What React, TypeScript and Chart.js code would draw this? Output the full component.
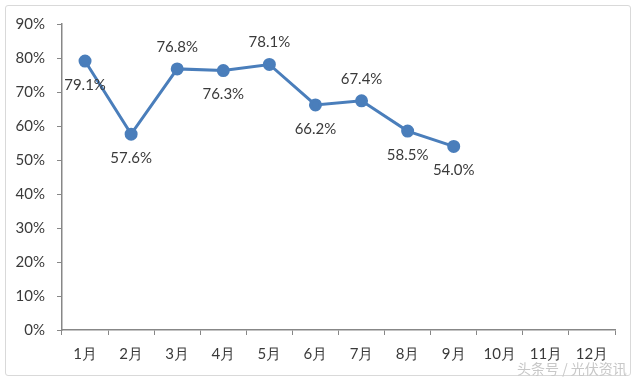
import React, { useEffect, useRef } from "react";
import { Chart, registerables } from "chart.js";

Chart.register(...registerables);

const months = ["1月", "2月", "3月", "4月", "5月", "6月", "7月", "8月", "9月", "10月", "11月", "12月"];
const rates: (number | null)[] = [79.1, 57.6, 76.8, 76.3, 78.1, 66.2, 67.4, 58.5, 54.0, null, null, null];
const labelPlacement = ["below", "below", "above", "below", "above", "below", "above", "below", "below"];
const yTicks = [0, 10, 20, 30, 40, 50, 60, 70, 80, 90];

const FONT = "Lato, 'Open Sans', 'Noto Sans', sans-serif";
const TEXT = "#3a3a3a";
const AXIS = "#878787";
const LINE = "#4a7ebb";

const labelPlugin = {
  id: "pointLabels",
  afterDatasetsDraw(chart: any) {
    const ctx = chart.ctx;
    const meta = chart.getDatasetMeta(0);
    ctx.save();
    ctx.font = `15px ${FONT}`;
    ctx.fillStyle = TEXT;
    ctx.textAlign = "center";
    ctx.textBaseline = "middle";
    meta.data.forEach((pt: any, i: number) => {
      const v = rates[i];
      if (v == null) return;
      const above = labelPlacement[i] === "above";
      const y = above ? pt.y - 22 : pt.y + 24;
      ctx.fillText(v.toFixed(1) + "%", pt.x, y);
    });
    ctx.restore();
  },
};

export default function App() {
  const ref = useRef<HTMLCanvasElement>(null);
  useEffect(() => {
    if (!ref.current) return;
    const chart = new Chart(ref.current, {
      type: "line",
      data: {
        labels: months,
        datasets: [
          {
            data: rates,
            borderColor: LINE,
            backgroundColor: LINE,
            borderWidth: 3,
            pointRadius: 5,
            pointBackgroundColor: LINE,
            pointBorderColor: LINE,
            tension: 0,
            spanGaps: false,
          },
        ],
      },
      options: {
        animation: false,
        responsive: false,
        maintainAspectRatio: false,
        layout: { padding: { left: 0, right: 25, top: 24, bottom: 0 } },
        plugins: { legend: { display: false }, tooltip: { enabled: false } },
        scales: {
          x: {
            offset: true,
            grid: {
              display: true,
              offset: true,
              drawOnChartArea: false,
              drawTicks: true,
              tickLength: 5,
              color: AXIS,
              lineWidth: 1,
            },
            border: { display: true, color: AXIS, width: 1.5 },
            ticks: { color: TEXT, font: { family: FONT, size: 15 }, padding: 10, maxRotation: 0 },
            afterFit(scale: any) {
              scale.height = 50;
            },
          },
          y: {
            min: 0,
            max: 90,
            afterBuildTicks(scale: any) {
              scale.ticks = yTicks.map((v) => ({ value: v }));
            },
            grid: {
              display: true,
              drawOnChartArea: false,
              drawTicks: true,
              tickLength: 5,
              color: AXIS,
            },
            border: { display: true, color: AXIS, width: 1.5 },
            ticks: {
              color: TEXT,
              font: { family: FONT, size: 15 },
              padding: 12,
              callback: (v: any) => v + "%",
            },
            afterFit(scale: any) {
              scale.width = 62;
            },
          },
        },
      },
      plugins: [labelPlugin],
    });
    return () => chart.destroy();
  }, []);

  return (
    <div style={{ position: "absolute", left: 0, top: 0, width: 640, height: 380, background: "#fff" }}>
      <div
        style={{
          position: "absolute",
          left: 5,
          top: 5,
          width: 626,
          height: 371,
          border: "1px solid #d9d9d9",
          borderRadius: 3,
          boxSizing: "border-box",
        }}
      />
      <canvas ref={ref} width={640} height={380} style={{ position: "absolute", left: 0, top: 0 }} />
      <span
        style={{
          position: "absolute",
          left: 517,
          top: 358,
          fontFamily: "'Noto Sans CJK SC', sans-serif",
          fontSize: 14,
          color: "#c8c8c8",
          whiteSpace: "nowrap",
        }}
      >
        头条号 / 光伏资讯
      </span>
    </div>
  );
}
